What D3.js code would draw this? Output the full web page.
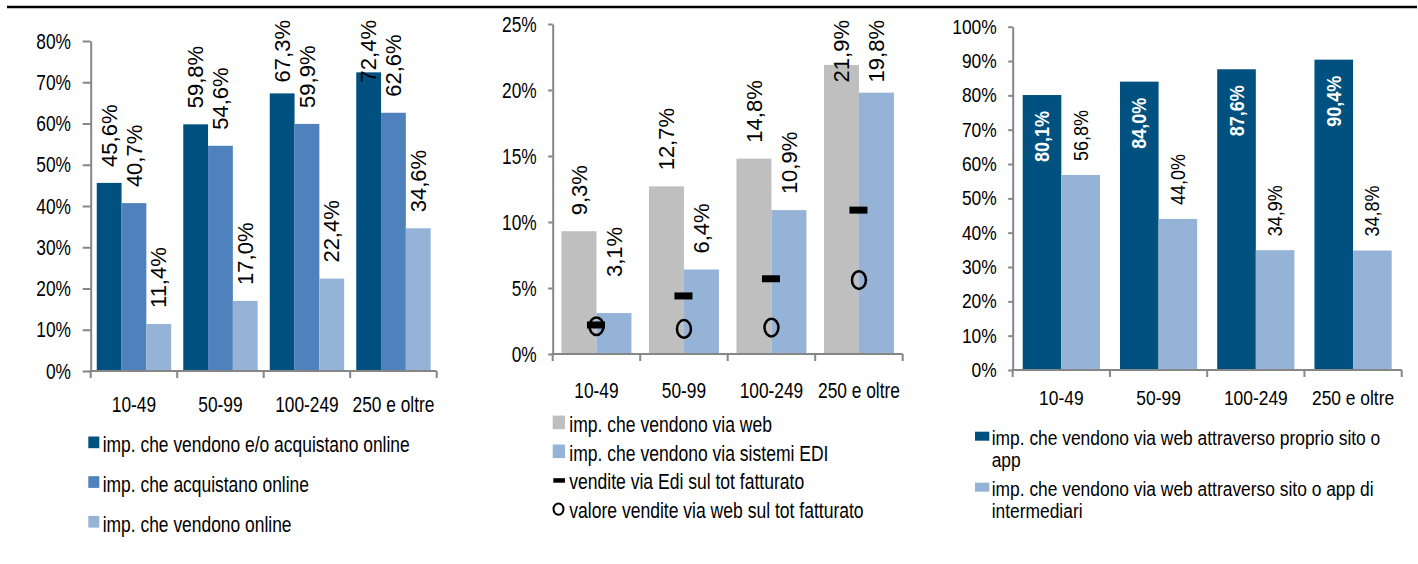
<!DOCTYPE html>
<html>
<head>
<meta charset="utf-8">
<script src="https://cdn.jsdelivr.net/npm/d3@7"></script>
<style>
  body { margin: 0; background: #fff; }
  svg text { font-family: "Liberation Sans", Arial, sans-serif; }
</style>
</head>
<body>
<svg id="chart" width="1418" height="564"></svg>
<script>
// --- dati ---
const categories = ["10-49", "50-99", "100-249", "250 e oltre"]

// pannello 1
const p1Labels = ["imp. che vendono e/o acquistano online", "imp. che acquistano online", "imp. che vendono online"]
const p1VendAcq = [45.6, 59.8, 67.3, 72.4]
const p1Acq = [40.7, 54.6, 59.9, 62.6]
const p1Vend = [11.4, 17.0, 22.4, 34.6]
const p1Ticks = [0, 10, 20, 30, 40, 50, 60, 70, 80]

// pannello 2
const p2Labels = ["imp. che vendono via web", "imp. che vendono via sistemi EDI", "vendite via Edi sul tot fatturato", "valore vendite via web sul tot fatturato"]
const p2Web = [9.3, 12.7, 14.8, 21.9]
const p2Edi = [3.1, 6.4, 10.9, 19.8]
const p2EdiFatt = [2.2, 4.4, 5.7, 10.9]
const p2WebFatt = [2.1, 1.9, 2.0, 5.6]
const p2Ticks = [0, 5, 10, 15, 20, 25]

// pannello 3
const p3Labels = [["imp. che vendono via web attraverso proprio sito o", "app"], ["imp. che vendono via web attraverso sito o app di", "intermediari"]]
const p3Proprio = [80.1, 84.0, 87.6, 90.4]
const p3Interm = [56.8, 44.0, 34.9, 34.8]
const p3Ticks = [0, 10, 20, 30, 40, 50, 60, 70, 80, 90, 100]

const navy = "#00517f", midBlue = "#4f81bd", lightBlue = "#95b3d7", grey = "#bfbfbf"
const axisColor = "#868686"

const svg = d3.select("#chart")
const it = d3.formatLocale({ decimal: ",", thousands: ".", grouping: [3], currency: ["", "€"] })
const fmt1 = it.format(".1f")
const pct = (v) => fmt1(v) + "%"

// linea in alto
svg.append("line").attr("x1", 7).attr("x2", 1417).attr("y1", 7).attr("y2", 7)
  .attr("stroke", "#000").attr("stroke-width", 2.5)

// testo orizzontale "stretto" (scala solo in x)
function hText(g, x, y, str, o) {
  return g.append("text")
    .attr("x", x / o.k).attr("y", y)
    .attr("transform", `scale(${o.k},1)`)
    .attr("font-size", o.size)
    .attr("text-anchor", o.anchor || "start")
    .text(str)
}

// etichetta verticale sulla barra
function barLabel(g, cx, yTop, str, o) {
  const t = g.append("text").attr("font-size", o.size).attr("dy", "0.35em").text(str)
  if (o.bold) t.attr("font-weight", "bold")
  if (o.fill) t.style("fill", o.fill)
  const len = t.node().getComputedTextLength() * o.k
  let y0
  if (o.inside) {
    y0 = yTop + o.gap + len
  } else {
    y0 = yTop - o.gap - (o.lift || 0)
    if (y0 - len < o.minY) y0 = o.minY + len
  }
  t.attr("transform", `translate(${cx},${y0}) rotate(-90) scale(${o.k},1)`)
  return t
}

function drawPanel(p) {
  const g = svg.append("g")
  const x0 = d3.scaleBand().domain(categories).range([p.left, p.right])
  const bw = x0.bandwidth()
  const x1 = d3.scaleBand().domain(d3.range(p.series.length)).range([bw * p.pad, bw * (1 - p.pad)])
  const y = d3.scaleLinear().domain([0, p.max]).range([p.bottom, p.top])

  // barre
  p.series.forEach((s, i) => {
    g.append("g").selectAll("rect").data(s.values).join("rect")
      .attr("x", (d, j) => x0(categories[j]) + x1(i))
      .attr("width", x1.bandwidth())
      .attr("y", (d) => y(d))
      .attr("height", (d) => p.bottom - y(d))
      .attr("fill", s.color)
  })

  if (p.extra) p.extra(g, x0, y)

  // asse y
  const ya = g.append("g").attr("transform", `translate(${p.left},0)`)
    .call(d3.axisLeft(y).tickValues(p.ticks).tickSize(p.tickLen).tickSizeOuter(0)
      .tickPadding(p.tickPad).tickFormat((d) => d + "%"))
  ya.attr("font-family", null).attr("font-size", p.fs)
  ya.select(".domain").attr("stroke", axisColor).attr("stroke-width", 2)
  ya.selectAll(".tick line").attr("stroke", axisColor).attr("stroke-width", 2)
  ya.selectAll(".tick text").style("fill", "#000").each(function () {
    const t = d3.select(this)
    t.attr("x", +t.attr("x") / p.k).attr("transform", `scale(${p.k},1)`)
  })

  // asse x
  g.append("line").attr("x1", p.left - 1).attr("x2", p.right).attr("y1", p.bottom).attr("y2", p.bottom)
    .attr("stroke", axisColor).attr("stroke-width", 2)
  const bounds = categories.map((c) => x0(c)).concat([x0.range()[1]])
  g.selectAll(".xt").data(bounds).join("line")
    .attr("x1", (d) => d).attr("x2", (d) => d)
    .attr("y1", p.bottom).attr("y2", p.bottom + 7)
    .attr("stroke", axisColor).attr("stroke-width", 2)
  categories.forEach((c) => {
    hText(g, x0(c) + bw / 2, p.bottom + p.xLabelDy, c, { k: p.k, size: p.fs, anchor: "middle" })
  })

  // etichette dati
  p.series.forEach((s, i) => {
    s.values.forEach((v, j) => {
      const cx = x0(categories[j]) + x1(i) + x1.bandwidth() / 2
      barLabel(g, cx, y(v), pct(v), Object.assign({}, s.label, { lift: s.lifts ? s.lifts[j] : 0 }))
    })
  })
  return g
}

// --- pannello 1 ---
const lab12 = { size: 22, k: 1, gap: 16, minY: 20 }
drawPanel({
  left: 90.7, right: 436.7, top: 41, bottom: 371, max: 80, ticks: p1Ticks,
  pad: 0.07, tickLen: 8, tickPad: 11.7, fs: 22.5, k: 0.77, xLabelDy: 40.7,
  series: [
    { values: p1VendAcq, color: navy, label: lab12 },
    { values: p1Acq, color: midBlue, label: lab12 },
    { values: p1Vend, color: lightBlue, label: lab12 }
  ]
})

// --- pannello 2 ---
drawPanel({
  left: 552.7, right: 902.7, top: 24, bottom: 354, max: 25, ticks: p2Ticks,
  pad: 0.1, tickLen: 4.5, tickPad: 11.5, fs: 22.5, k: 0.77, xLabelDy: 44.3,
  series: [
    { values: p2Web, color: grey, label: lab12 },
    { values: p2Edi, color: lightBlue, label: lab12, lifts: [20, 0, 0, 0] }
  ],
  extra: (g, x0, y) => {
    const bw = x0.bandwidth()
    g.append("g").selectAll("rect").data(p2EdiFatt).join("rect")
      .attr("x", (d, j) => x0(categories[j]) + bw / 2 - 9.5)
      .attr("y", (d) => y(d) - 3.5)
      .attr("width", 18).attr("height", 7).attr("fill", "#000")
    g.append("g").selectAll("ellipse").data(p2WebFatt).join("ellipse")
      .attr("cx", (d, j) => x0(categories[j]) + bw / 2)
      .attr("cy", (d) => y(d))
      .attr("rx", 7).attr("ry", 8.8)
      .attr("fill", "none").attr("stroke", "#000").attr("stroke-width", 2.5)
  }
})

// --- pannello 3 ---
drawPanel({
  left: 1012.7, right: 1401.7, top: 26.7, bottom: 370, max: 100, ticks: p3Ticks,
  pad: 0.103, tickLen: 4.5, tickPad: 11.5, fs: 20, k: 0.87, xLabelDy: 35,
  series: [
    { values: p3Proprio, color: navy, label: { size: 20, k: 0.9, gap: 16, inside: true, bold: true, fill: "#fff" } },
    { values: p3Interm, color: lightBlue, label: { size: 20, k: 0.9, gap: 14, minY: 20 } }
  ]
})

// --- legende ---
const leg = svg.append("g")
const leg1Colors = [navy, midBlue, lightBlue]
p1Labels.forEach((s, i) => {
  const by = 452.3 + i * 39.7
  leg.append("rect").attr("x", 88.3).attr("y", by - 15.8).attr("width", 11).attr("height", 11.7).attr("fill", leg1Colors[i])
  hText(leg, 102.7, by, s, { k: 0.775, size: 22.5 })
})

p2Labels.forEach((s, i) => {
  const by = 431.7 + i * 28.9
  const cy = by - 9.3
  if (i < 2) {
    leg.append("rect").attr("x", 552.7).attr("y", cy - 6.8).attr("width", 12.3).attr("height", 13.6).attr("fill", i === 0 ? grey : lightBlue)
  } else if (i === 2) {
    leg.append("rect").attr("x", 553.3).attr("y", cy - 2).attr("width", 11.7).attr("height", 4.5).attr("fill", "#000")
  } else {
    leg.append("ellipse").attr("cx", 558.5).attr("cy", cy).attr("rx", 5).attr("ry", 5.6)
      .attr("fill", "none").attr("stroke", "#000").attr("stroke-width", 2)
  }
  hText(leg, 569.3, by, s, { k: 0.78, size: 22.5 })
})

const leg3Colors = [navy, lightBlue]
p3Labels.forEach((lines, i) => {
  const by = 445 + i * 51
  leg.append("rect").attr("x", 975).attr("y", by - 13.3).attr("width", 14.3).attr("height", 9).attr("fill", leg3Colors[i])
  lines.forEach((ln, l) => hText(leg, 991.7, by + l * 22.5, ln, { k: 0.87, size: 20 }))
})
</script>
</body>
</html>
